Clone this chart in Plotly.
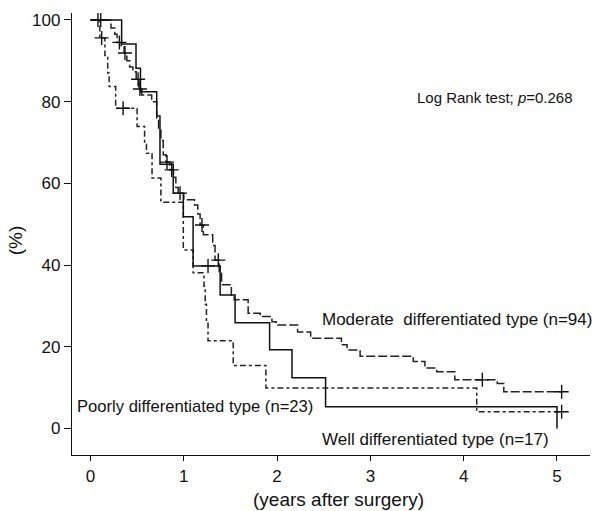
import plotly.graph_objects as go

# ---- data (years after surgery, survival %) ----
well_t = [0, 0.334, 0.488, 0.536, 0.71, 0.745, 0.887, 0.995, 1.10, 1.39, 1.55, 1.92, 2.16, 2.52, 5.0]
well_s = [100, 94.1, 88.2, 82.4, 76.5, 64.7, 57.6, 51.8, 39.8, 32.7, 25.9, 19.3, 12.4, 5.3, 0]
well_cens_t = [1.26]
well_cens_s = [39.8]

mod_t = [0, 0.22, 0.26, 0.285, 0.33, 0.36, 0.39, 0.42, 0.455, 0.49,
         0.52, 0.55, 0.656, 0.71, 0.73, 0.755, 0.78, 0.81, 0.85, 0.89,
         0.915, 0.94, 1.0, 1.115, 1.15, 1.175, 1.21, 1.31, 1.335, 1.38,
         1.405, 1.51, 1.54, 1.69, 1.82, 1.945, 1.99, 2.22, 2.36, 2.69,
         2.75, 2.89, 3.46, 3.585, 3.71, 3.905, 4.36, 4.43, 5.05]
mod_s = [100, 98, 96.5, 94.5, 93.6, 91.9, 90, 88.5, 87.3, 85.5,
         83.1, 81.6, 80, 76, 73, 70.5, 67, 65.2, 63.3, 61.5,
         59, 57.6, 56, 54.7, 52.5, 49.8, 47.4, 44.8, 41.2, 38,
         35.2, 32.2, 31.5, 28.2, 27.4, 26.1, 25.3, 23.6, 22.1, 20.5,
         19.2, 17.7, 16.4, 14.8, 13.9, 11.9, 11.0, 9.0, 9.0]
mod_cens_t = [0.08, 0.11, 0.31, 0.37, 0.51, 0.53, 0.82, 0.87, 0.96, 1.195, 1.37, 4.2, 5.05]
mod_cens_s = [100, 100, 94.5, 91.9, 85.5, 83.1, 65.2, 63.3, 57.6, 49.8, 41.2, 11.9, 9.0]

poor_t = [0, 0.10, 0.155, 0.185, 0.20, 0.27, 0.50, 0.58, 0.60, 0.66, 0.755,
          0.995, 1.10, 1.217, 1.23, 1.243, 1.26, 1.53, 1.88, 4.14, 5.05]
poor_s = [100, 95.6, 91.3, 87.0, 83.7, 78.4, 73.9, 69.6, 67.4, 61.3, 55.4,
          43.7, 38.1, 34.8, 30.4, 26.1, 21.5, 15.4, 9.9, 4.1, 4.1]
poor_cens_t = [0.12, 0.35, 5.05]
poor_cens_s = [95.6, 78.4, 4.1]

x_ticks = [0, 1, 2, 3, 4, 5]
y_ticks = [0, 20, 40, 60, 80, 100]

FONT = "Liberation Sans, Arial, sans-serif"

fig = go.Figure()

def add_curve(t, s, ct, cs, dash, color):
    fig.add_trace(go.Scatter(x=t, y=s, mode="lines", line_shape="hv",
                             line=dict(color=color, width=1.5, dash=dash),
                             hoverinfo="skip"))
    fig.add_trace(go.Scatter(x=ct, y=cs, mode="markers",
                             marker=dict(symbol="cross-thin", size=10,
                                         line=dict(color="#111", width=1.4)),
                             hoverinfo="skip"))

add_curve(mod_t, mod_s, mod_cens_t, mod_cens_s, "9px,3px", "#222")
add_curve(poor_t, poor_s, poor_cens_t, poor_cens_s, "6px,3px,3px,3px", "#222")
add_curve(well_t, well_s, well_cens_t, well_cens_s, "solid", "#111")

annos = [
    dict(x=3.478, y=81.1, text="Log Rank test; <i>p</i>=0.268", size=15),
    dict(x=2.46, y=26.6, text="Moderate  differentiated type (n=94)", size=17),
    dict(x=-0.166, y=5.3, text="Poorly differentiated type (n=23)", size=16.6),
    dict(x=2.46, y=-2.8, text="Well differentiated type (n=17)", size=17),
]
for a in annos:
    fig.add_annotation(x=a["x"], y=a["y"], xref="x", yref="y", text=a["text"],
                       showarrow=False, xanchor="left", yanchor="middle",
                       font=dict(family=FONT, size=a["size"], color="#111"))

fig.add_annotation(x=0.515, y=-0.101, xref="paper", yref="paper",
                   text="(years after surgery)", showarrow=False,
                   xanchor="center", yanchor="middle",
                   font=dict(family=FONT, size=19, color="#111"))
fig.add_annotation(x=-0.11, y=0.486, xref="paper", yref="paper",
                   text="(%)", showarrow=False, textangle=-90,
                   xanchor="center", yanchor="middle",
                   font=dict(family=FONT, size=19, color="#111"))

fig.update_layout(
    width=596, height=511,
    margin=dict(l=72, r=6, t=13, b=56),
    paper_bgcolor="white", plot_bgcolor="white",
    showlegend=False,
    font=dict(family=FONT, color="#111"),
    xaxis=dict(range=[-0.198, 5.354], tickvals=x_ticks, ticks="outside",
               ticklen=5, tickwidth=1.2, tickcolor="#111",
               showline=True, linecolor="#111", linewidth=1.3,
               showgrid=False, zeroline=False, tickfont=dict(size=17)),
    yaxis=dict(range=[-6.49, 101.7], tickvals=y_ticks, ticks="outside",
               ticklen=7, tickwidth=1.2, tickcolor="#111",
               showline=True, linecolor="#111", linewidth=1.3,
               showgrid=False, zeroline=False, tickfont=dict(size=17)),
)

fig.write_html("out.html")
